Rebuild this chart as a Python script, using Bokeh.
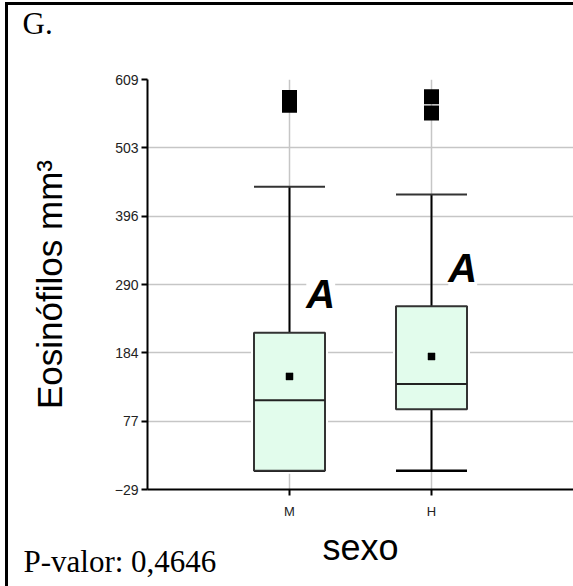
from bokeh.plotting import figure
from bokeh.models import Range1d, FixedTicker, Label, Title
from bokeh.embed import file_html
from bokeh.resources import INLINE

# ---- data ----
categories = ["M", "H"]
q1 = [0, 96]
median = [110, 135]
q3 = [215, 256]
lower_whisker = [0, 0]
upper_whisker = [442, 430]
means = [147, 178]
outlier_groups = ["M", "M", "H", "H"]
outlier_values = [581, 569, 582, 557]
group_letters = ["A", "A"]
y_ticks = [-29, 77, 184, 290, 396, 503, 609]
panel_letter = "G."
p_value_text = "P-valor: 0,4646"
x_title = "sexo"
y_title = "Eosinófilos mm³"

# ---- layout ----
FRAME_LEFT, FRAME_TOP, FRAME_BOTTOM = 147, 79, 489
W, H = 573, 586
xs = [i + 1 for i in range(len(categories))]
pos = {c: i + 1 for i, c in enumerate(categories)}
BOX_W = 0.5

p = figure(width=W, height=H, output_backend="svg", toolbar_location=None,
           x_range=Range1d(0, len(categories) + 1), y_range=Range1d(y_ticks[0], y_ticks[-1]),
           min_border_left=FRAME_LEFT, min_border_right=0,
           min_border_top=FRAME_TOP, min_border_bottom=H - FRAME_BOTTOM)
p.outline_line_color = None
p.background_fill_color = "white"
p.border_fill_color = None
# panel frame lines (left and top) drawn as CSS background behind the transparent border area
p.styles = {
    "background-color": "white",
    "background-image": "linear-gradient(#000,#000), linear-gradient(#000,#000)",
    "background-position": "5px 2px, 5px 2px",
    "background-size": "3px 600px, 600px 3px",
    "background-repeat": "no-repeat",
}

# axes
p.xaxis.ticker = FixedTicker(ticks=xs)
p.xaxis.major_label_overrides = {x: c for x, c in zip(xs, categories)}
p.yaxis.ticker = FixedTicker(ticks=y_ticks)
for ax in (p.xaxis[0], p.yaxis[0]):
    ax.axis_line_color = "black"
    ax.axis_line_width = 2
    ax.major_tick_line_color = "black"
    ax.major_tick_line_width = 2
    ax.major_tick_in = 0
    ax.major_tick_out = 6
    ax.minor_tick_line_color = None
    ax.major_label_text_font = "Liberation Sans"
    ax.major_label_text_color = "#222222"
    ax.axis_label_text_font = "Liberation Sans"
    ax.axis_label_text_font_style = "normal"
    ax.axis_label_text_color = "black"
p.yaxis.axis_label = y_title
p.xaxis.axis_label = x_title
p.yaxis.axis_label_text_font_size = "35px"
p.xaxis.axis_label_text_font_size = "36px"
p.xaxis.major_label_text_font_size = "13px"
p.yaxis.major_label_text_font_size = "14px"
p.yaxis.axis_label_standoff = 43
p.xaxis.axis_label_standoff = 5
p.xaxis.major_label_standoff = 8
p.yaxis.major_label_standoff = 3

p.grid.grid_line_color = "#c6c6c6"
p.grid.grid_line_width = 1.5

# white halo behind boxes (cuts the grid)
p.vbar(x=xs, width=BOX_W, top=q3, bottom=q1, fill_color="white", line_color="white", line_width=6)

# whiskers
p.segment(x0=xs, y0=q3, x1=xs, y1=upper_whisker, line_color="black", line_width=2)
p.segment(x0=xs, y0=q1, x1=xs, y1=lower_whisker, line_color="black", line_width=2)
p.segment(x0=[x - BOX_W / 2 for x in xs], y0=upper_whisker, x1=[x + BOX_W / 2 for x in xs],
          y1=upper_whisker, line_color="#333333", line_width=2)
p.segment(x0=[x - BOX_W / 2 for x in xs], y0=lower_whisker, x1=[x + BOX_W / 2 for x in xs],
          y1=lower_whisker, line_color="black", line_width=2.5)

# boxes
p.vbar(x=xs, width=BOX_W, top=q3, bottom=q1, fill_color="#e2fcec", line_color="#333333", line_width=2)
p.segment(x0=[x - BOX_W / 2 for x in xs], y0=median, x1=[x + BOX_W / 2 for x in xs],
          y1=median, line_color="#222222", line_width=2)

# means
p.scatter(x=xs, y=means, marker="square", size=7, fill_color="black", line_color="black", line_width=0.5)

# outliers
p.scatter(x=[pos[g] for g in outlier_groups], y=outlier_values, marker="square", size=15,
          fill_color="black", line_color=None)

# group letters
for x, top, letter in zip(xs, q3, group_letters):
    p.add_layout(Label(x=x + 0.22, y=top + 60, text=letter, text_align="center",
                       text_baseline="alphabetic", text_font="Liberation Sans",
                       text_font_size="40px", text_font_style="bold italic",
                       text_color="black", background_fill_color="white"))

# --- free texts outside the frame, as titles in the side panels ---
# spacer title next to the frame pushes the panel letter (outermost title) up
p.add_layout(Title(text=" ", text_font_size="10px", standoff=26), "above")

p.title = Title(text=panel_letter, align="left", offset=22 - FRAME_LEFT, standoff=0,
                vertical_align="bottom", text_font="Liberation Serif", text_font_size="31px",
                text_font_style="normal", text_color="black")
p.title_location = "above"

p.add_layout(Title(text=p_value_text, align="left", offset=23 - FRAME_LEFT, standoff=-53,
                   vertical_align="top", text_font="Liberation Serif", text_font_size="31px",
                   text_font_style="normal", text_color="black"), "below")

open("out.html", "w").write(file_html(p, INLINE))
